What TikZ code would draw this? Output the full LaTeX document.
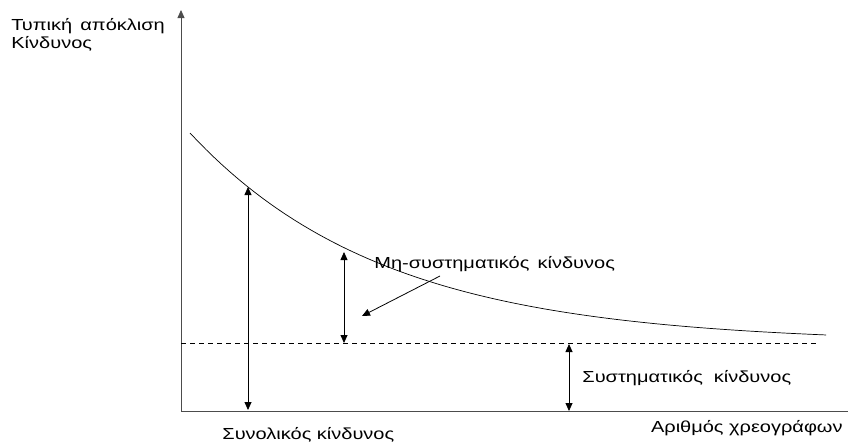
\documentclass[tikz,border=0pt]{standalone}
\usepackage{fontspec}
\setmainfont[FakeStretch=1.25]{Liberation Sans}
\usetikzlibrary{arrows.meta}
\tikzset{
  tip/.style={-{Triangle[length=8pt,width=7pt]}},
  dtip/.style={{Triangle[length=8pt,width=7pt]}-{Triangle[length=8pt,width=7pt]}},
  lbl/.style={inner sep=0pt, font=\fontsize{16}{18}\selectfont}
}
\begin{document}
\begin{tikzpicture}[x=1pt, y=-1pt, line width=0.8pt]
  \useasboundingbox (0,0) rectangle (848,442);
  % axes
  \coordinate (O) at (181,411);
  \coordinate (ytop) at (181,10);
  \coordinate (xend) at (848,411);
  \draw[tip, black!70] (O) -- (ytop);
  \draw[black!70] (O) -- (xend);
  \node[lbl, anchor=base west, align=left] (ylab) at (11,48) {Τυπική\, απόκλιση\\Κίνδυνος};
  \node[lbl, anchor=base east] (xlab) at (843,432) {Αριθμός χρεογράφων};
  % curve and market level
  \draw[domain=190:826, samples=80, line width=0.7pt]
    plot (\x, {343-210*exp(-0.00512*(\x-190))});
  \coordinate (d1) at (181,343);
  \coordinate (d2) at (816,343);
  \draw[dashed, dash pattern=on 5pt off 4pt] (d1) -- (d2);
  % total risk
  \coordinate (t1) at (248,187);
  \coordinate (t2) at (248,410);
  \draw[dtip] (t1) -- (t2);
  \node[lbl, anchor=base west] (tot) at (222,439) {Συνολικός κίνδυνος};
  % unsystematic risk
  \coordinate (u1) at (344,252);
  \coordinate (u2) at (344,343);
  \draw[dtip] (u1) -- (u2);
  \node[lbl, anchor=base west] (uns) at (374,268) {Μη-συστηματικός\, κίνδυνος};
  \coordinate (p1) at (440,276);
  \coordinate (p2) at (362,316);
  \draw[tip] (p1) -- (p2);
  % systematic risk
  \coordinate (s1) at (569,344);
  \coordinate (s2) at (569,411);
  \draw[dtip] (s1) -- (s2);
  \node[lbl, anchor=base west] (sys) at (582,382) {Συστηματικός\,\, κίνδυνος};
\end{tikzpicture}
\end{document}
